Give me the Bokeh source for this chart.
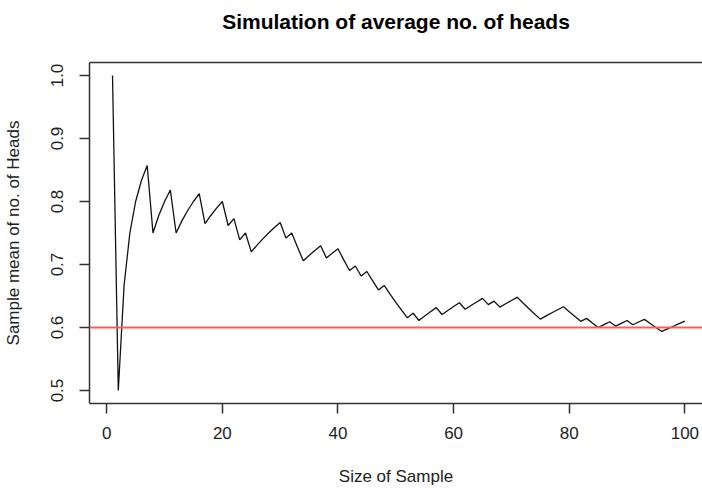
from bokeh.plotting import figure
from bokeh.models import Range1d, LinearAxis, FixedTicker, Span
from bokeh.embed import file_html
from bokeh.resources import INLINE

# Sample size (number of flips) and running mean of heads
sample_size = list(range(1, 101))
sample_mean = [
    1.0, 0.5, 0.6667, 0.75, 0.8, 0.8333, 0.8571, 0.75, 0.7778, 0.8,
    0.8182, 0.75, 0.7692, 0.7857, 0.8, 0.8125, 0.7647, 0.7778, 0.7895, 0.8,
    0.7619, 0.7727, 0.7391, 0.75, 0.72, 0.7308, 0.7407, 0.75, 0.7586, 0.7667,
    0.7419, 0.75, 0.7273, 0.7059, 0.7143, 0.7222, 0.7297, 0.7105, 0.7179, 0.725,
    0.7073, 0.6905, 0.6977, 0.6818, 0.6889, 0.6739, 0.6596, 0.6667, 0.6531, 0.64,
    0.6275, 0.6154, 0.6226, 0.6111, 0.6182, 0.625, 0.6316, 0.6207, 0.6271, 0.6333,
    0.6393, 0.629, 0.6349, 0.6406, 0.6462, 0.6364, 0.6418, 0.6324, 0.6377, 0.6429,
    0.6479, 0.6389, 0.6301, 0.6216, 0.6133, 0.6184, 0.6234, 0.6282, 0.6329, 0.625,
    0.6173, 0.6098, 0.6145, 0.6071, 0.6, 0.6047, 0.6092, 0.6023, 0.6067, 0.6111,
    0.6044, 0.6087, 0.6129, 0.6064, 0.6, 0.5938, 0.5979, 0.602, 0.6061, 0.61,
]
reference_value = 0.6
x_ticks = [0, 20, 40, 60, 80, 100]
y_ticks = [0.5, 0.6, 0.7, 0.8, 0.9, 1.0]
y_tick_labels = ["0.5", "0.6", "0.7", "0.8", "0.9", "1.0"]
title_text = "Simulation of average no. of heads"
x_label_text = "Size of Sample"
y_label_text = "Sample mean of no. of Heads"

FONT = "Liberation Sans"
AX = "#333333"

p = figure(
    width=702, height=488,
    x_range=Range1d(-2.98, 103.05),
    y_range=Range1d(0.4794, 1.0206),
    output_backend="svg", toolbar_location=None,
    x_axis_location=None, y_axis_location=None,
    min_border_left=87, min_border_right=0,
    min_border_top=62, min_border_bottom=85,
)
p.background_fill_color = "white"
p.border_fill_color = "white"
p.outline_line_color = None
p.xgrid.visible = False
p.ygrid.visible = False

def style_axis(ax):
    ax.axis_line_color = AX
    ax.axis_line_width = 1.5
    ax.major_tick_line_color = AX
    ax.major_tick_line_width = 1.5
    ax.major_tick_out = 10
    ax.major_tick_in = 0
    ax.minor_tick_line_color = None
    ax.major_label_text_font = FONT
    ax.major_label_text_font_size = "17px"
    ax.major_label_text_color = "#222222"
    ax.axis_label_text_font = FONT
    ax.axis_label_text_font_size = "17px"
    ax.axis_label_text_font_style = "normal"
    ax.axis_label_text_color = "#222222"

xb = LinearAxis(ticker=FixedTicker(ticks=x_ticks), axis_label=x_label_text)
style_axis(xb)
xb.major_label_standoff = 13
xb.axis_label_standoff = 25
p.add_layout(xb, "below")

yl = LinearAxis(ticker=FixedTicker(ticks=y_ticks), axis_label=y_label_text)
style_axis(yl)
yl.major_label_overrides = {t: s for t, s in zip(y_ticks, y_tick_labels)}
yl.major_label_orientation = "vertical"
yl.major_label_standoff = 16
yl.axis_label_standoff = 26
p.add_layout(yl, "left")

# top frame line, carrying the chart title as its label
xt = LinearAxis(ticker=FixedTicker(ticks=[]), axis_label=title_text)
xt.axis_line_color = AX
xt.axis_line_width = 1.5
xt.major_tick_out = 0
xt.major_tick_in = 0
xt.major_label_standoff = 0
xt.major_label_text_font_size = "0px"
xt.minor_tick_line_color = None
xt.axis_label_text_font = FONT
xt.axis_label_text_font_size = "21px"
xt.axis_label_text_font_style = "bold"
xt.axis_label_text_color = "black"
xt.axis_label_standoff = 30
p.add_layout(xt, "above")

p.line(sample_size, sample_mean, line_color="#111111", line_width=1.3)
p.add_layout(Span(location=reference_value, dimension="width",
                  line_color="#ff5c5c", line_width=2))

open("out.html", "w").write(file_html(p, INLINE))
